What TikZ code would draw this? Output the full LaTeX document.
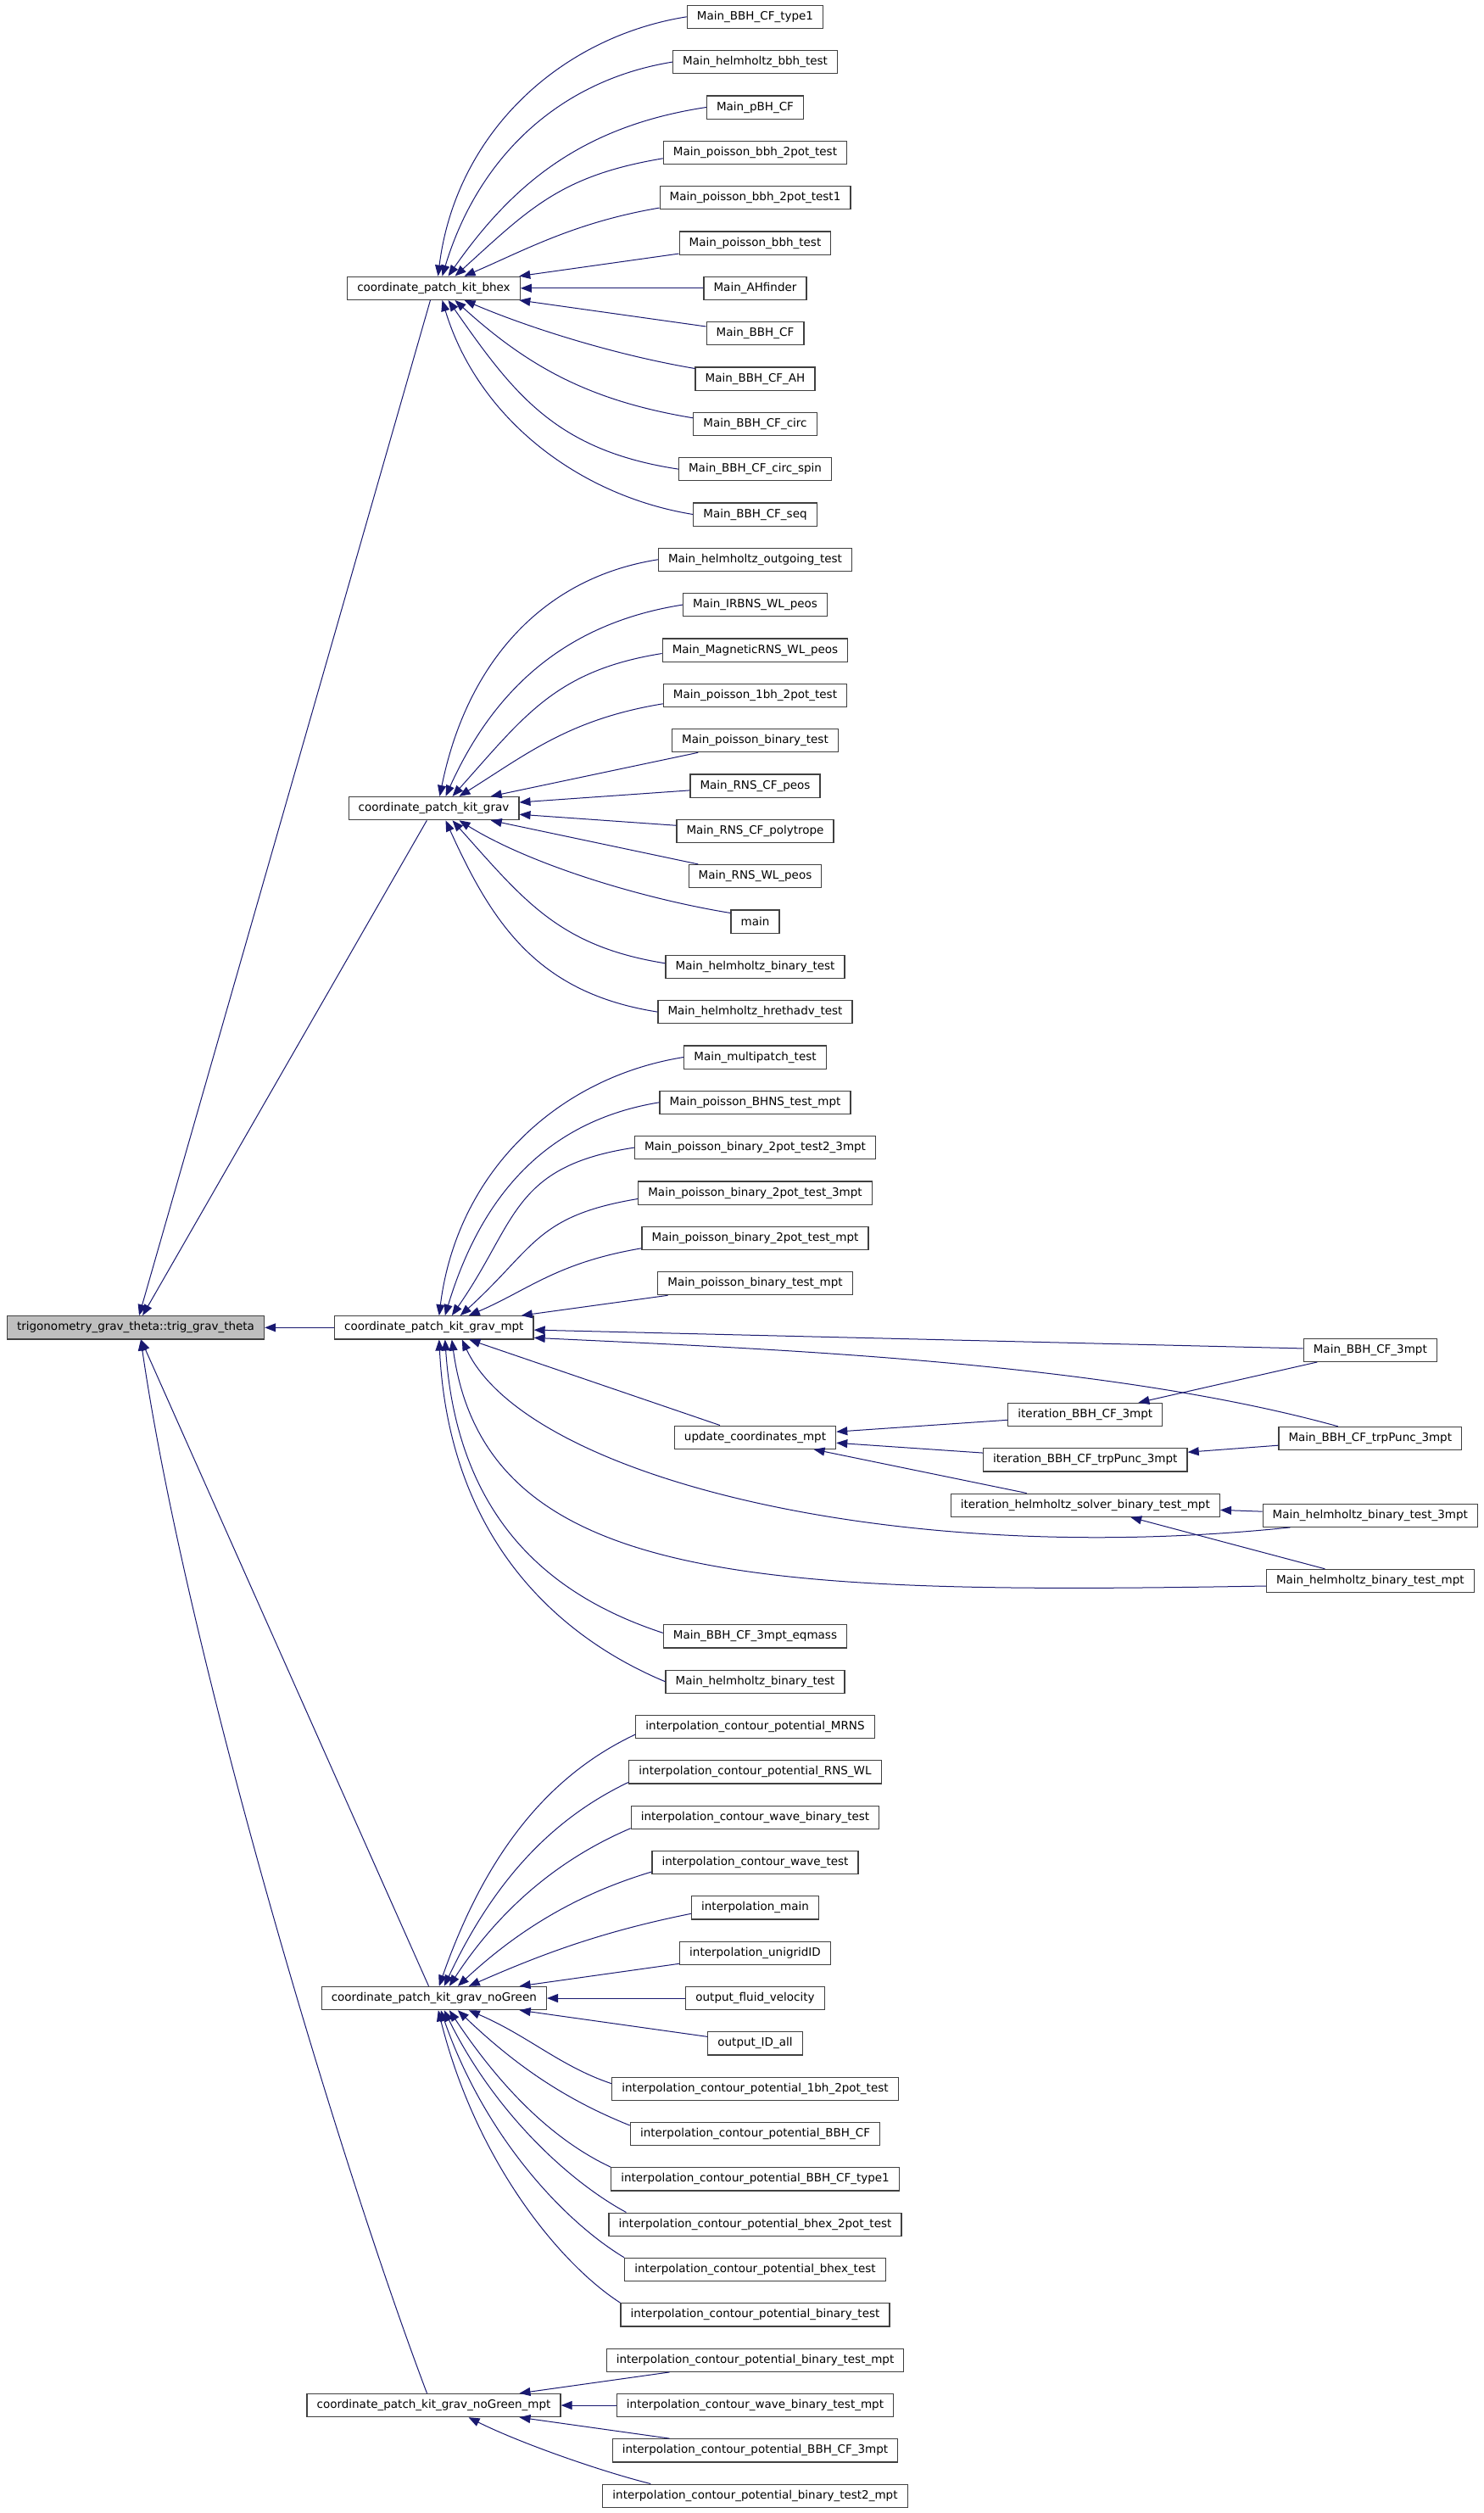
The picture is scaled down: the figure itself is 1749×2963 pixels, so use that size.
\documentclass[tikz,border=0pt]{standalone}
\usepackage{fontspec}
\setmainfont{DejaVu Sans}
\usetikzlibrary{arrows.meta}
\definecolor{edgeblue}{RGB}{25,25,112}
\definecolor{boxgray}{RGB}{64,64,64}
\definecolor{rootgray}{RGB}{191,191,191}
\tikzset{
  fn/.style={draw=boxgray, line width=1.2pt, fill=white, inner xsep=11.6pt, inner ysep=0pt,
    minimum height=27.2pt, font=\fontsize{13.5pt}{16pt}\selectfont},
  rootfn/.style={fn, fill=rootgray},
  edge/.style={draw=edgeblue, line width=1pt, {Triangle[length=13pt,width=10pt]}-}
}
\begin{document}
\begin{tikzpicture}[x=1pt,y=-1pt]
\fill[white] (0,0) rectangle (1749,2963);
\useasboundingbox (0,0) rectangle (1749,2963);
% root and the five patch kits
\node[rootfn] (trig) at (160,1565.3) {trigonometry\_grav\_theta::trig\_grav\_theta};
\node[fn] (bhex) at (511.5,339.8) {coordinate\_patch\_kit\_bhex};
\node[fn] (grav) at (511.5,953.1) {coordinate\_patch\_kit\_grav};
\node[fn] (gmpt) at (511.8,1565.3) {coordinate\_patch\_kit\_grav\_mpt};
\node[fn] (ngrn) at (511.8,2356) {coordinate\_patch\_kit\_grav\_noGreen};
\node[fn] (ngmpt) at (511.5,2836) {coordinate\_patch\_kit\_grav\_noGreen\_mpt};
% callers of bhex
\node[fn] (bh0) at (890.5,19.8) {Main\_BBH\_CF\_type1};
\node[fn] (bh1) at (890.5,73.1) {Main\_helmholtz\_bbh\_test};
\node[fn] (bh2) at (890.5,126.5) {Main\_pBH\_CF};
\node[fn] (bh3) at (890.5,179.8) {Main\_poisson\_bbh\_2pot\_test};
\node[fn] (bh4) at (890.5,233.1) {Main\_poisson\_bbh\_2pot\_test1};
\node[fn] (bh5) at (890.5,286.5) {Main\_poisson\_bbh\_test};
\node[fn] (bh6) at (890.5,339.8) {Main\_AHfinder};
\node[fn] (bh7) at (890.5,393.1) {Main\_BBH\_CF};
\node[fn] (bh8) at (890.5,446.5) {Main\_BBH\_CF\_AH};
\node[fn] (bh9) at (890.5,499.8) {Main\_BBH\_CF\_circ};
\node[fn] (bh10) at (890.5,553.1) {Main\_BBH\_CF\_circ\_spin};
\node[fn] (bh11) at (890.5,606.5) {Main\_BBH\_CF\_seq};
% callers of grav
\node[fn] (gr12) at (890.5,659.8) {Main\_helmholtz\_outgoing\_test};
\node[fn] (gr13) at (890.5,713.1) {Main\_IRBNS\_WL\_peos};
\node[fn] (gr14) at (890.5,766.5) {Main\_MagneticRNS\_WL\_peos};
\node[fn] (gr15) at (890.5,819.8) {Main\_poisson\_1bh\_2pot\_test};
\node[fn] (gr16) at (890.5,873.1) {Main\_poisson\_binary\_test};
\node[fn] (gr17) at (890.5,926.5) {Main\_RNS\_CF\_peos};
\node[fn] (gr18) at (890.5,979.8) {Main\_RNS\_CF\_polytrope};
\node[fn] (gr19) at (890.5,1033.1) {Main\_RNS\_WL\_peos};
\node[fn] (gr20) at (890.5,1086.5) {main};
\node[fn] (gr21) at (890.5,1139.8) {Main\_helmholtz\_binary\_test};
\node[fn] (gr22) at (890.5,1193.1) {Main\_helmholtz\_hrethadv\_test};
% callers of grav_mpt
\node[fn] (gm23) at (890.5,1246.5) {Main\_multipatch\_test};
\node[fn] (gm24) at (890.5,1299.8) {Main\_poisson\_BHNS\_test\_mpt};
\node[fn] (gm25) at (890.5,1353.1) {Main\_poisson\_binary\_2pot\_test2\_3mpt};
\node[fn] (gm26) at (890.5,1406.5) {Main\_poisson\_binary\_2pot\_test\_3mpt};
\node[fn] (gm27) at (890.5,1459.8) {Main\_poisson\_binary\_2pot\_test\_mpt};
\node[fn] (gm28) at (890.5,1513.1) {Main\_poisson\_binary\_test\_mpt};
\node[fn] (m3mpt) at (1615.8,1591.8) {Main\_BBH\_CF\_3mpt};
\node[fn] (itbbh) at (1279.8,1668) {iteration\_BBH\_CF\_3mpt};
\node[fn] (upd) at (890.5,1694.7) {update\_coordinates\_mpt};
\node[fn] (mtrp) at (1615.8,1696) {Main\_BBH\_CF\_trpPunc\_3mpt};
\node[fn] (ittrp) at (1279.8,1721.3) {iteration\_BBH\_CF\_trpPunc\_3mpt};
\node[fn] (ithelm) at (1279.8,1774.7) {iteration\_helmholtz\_solver\_binary\_test\_mpt};
\node[fn] (mh3mpt) at (1615.8,1786.7) {Main\_helmholtz\_binary\_test\_3mpt};
\node[fn] (mhmpt) at (1615.8,1864) {Main\_helmholtz\_binary\_test\_mpt};
\node[fn] (eqm) at (890.5,1929.3) {Main\_BBH\_CF\_3mpt\_eqmass};
\node[fn] (mhbt) at (890.5,1982.7) {Main\_helmholtz\_binary\_test};
% callers of noGreen
\node[fn] (ng0) at (890.5,2036) {interpolation\_contour\_potential\_MRNS};
\node[fn] (ng1) at (890.5,2089.3) {interpolation\_contour\_potential\_RNS\_WL};
\node[fn] (ng2) at (890.5,2142.7) {interpolation\_contour\_wave\_binary\_test};
\node[fn] (ng3) at (890.5,2196) {interpolation\_contour\_wave\_test};
\node[fn] (ng4) at (890.5,2249.3) {interpolation\_main};
\node[fn] (ng5) at (890.5,2302.7) {interpolation\_unigridID};
\node[fn] (ng6) at (890.5,2356) {output\_fluid\_velocity};
\node[fn] (ng7) at (890.5,2409.3) {output\_ID\_all};
\node[fn] (ng8) at (890.5,2462.7) {interpolation\_contour\_potential\_1bh\_2pot\_test};
\node[fn] (ng9) at (890.5,2516) {interpolation\_contour\_potential\_BBH\_CF};
\node[fn] (ng10) at (890.5,2569.3) {interpolation\_contour\_potential\_BBH\_CF\_type1};
\node[fn] (ng11) at (890.5,2622.7) {interpolation\_contour\_potential\_bhex\_2pot\_test};
\node[fn] (ng12) at (890.5,2676) {interpolation\_contour\_potential\_bhex\_test};
\node[fn] (ng13) at (890.5,2729.3) {interpolation\_contour\_potential\_binary\_test};
% callers of noGreen_mpt
\node[fn] (nm14) at (890.5,2782.7) {interpolation\_contour\_potential\_binary\_test\_mpt};
\node[fn] (nm15) at (890.5,2836) {interpolation\_contour\_wave\_binary\_test\_mpt};
\node[fn] (nm16) at (890.5,2889.3) {interpolation\_contour\_potential\_BBH\_CF\_3mpt};
\node[fn] (nm17) at (890.5,2942.7) {interpolation\_contour\_potential\_binary\_test2\_mpt};

% edges into the root
\draw[edge] (trig) -- (bhex);
\draw[edge] (trig) -- (grav);
\draw[edge] (trig) -- (gmpt);
\draw[edge] (trig) -- (ngrn);
\draw[edge] ([xshift=6pt]trig.south) .. controls +(54,371) and +(-103,-272) .. ([xshift=-8pt]ngmpt.north);

% bhex fan
\draw[edge] ([xshift=5pt]bhex.north) .. controls +(21,-168) and +(-150,24) .. (bh0.west);
\draw[edge] ([xshift=10pt]bhex.north) .. controls +(42,-139) and +(-135,22) .. (bh1.west);
\draw[edge] ([xshift=17pt]bhex.north) .. controls +(77,-110) and +(-145,22) .. (bh2.west);
\draw[edge] ([xshift=25pt]bhex.north) .. controls +(88,-80) and +(-120,20) .. ([yshift=-7pt]bh3.west);
\draw[edge] ([xshift=36pt]bhex.north) .. controls +(70,-30) and +(-100,17) .. ([yshift=-12pt]bh4.west);
\draw[edge] (bhex) -- (bh5);
\draw[edge] (bhex) -- (bh6);
\draw[edge] (bhex) -- (bh7);
\draw[edge] ([xshift=36pt]bhex.south) .. controls +(70,30) and +(-100,-17) .. ([yshift=12pt]bh8.west);
\draw[edge] ([xshift=25pt]bhex.south) .. controls +(88,80) and +(-120,-20) .. ([yshift=7pt]bh9.west);
\draw[edge] ([xshift=17pt]bhex.south) .. controls +(77,110) and +(-145,-22) .. (bh10.west);
\draw[edge] ([xshift=10pt]bhex.south) .. controls +(42,139) and +(-135,-22) .. (bh11.west);

% grav fan
\draw[edge] ([xshift=7pt]grav.north) .. controls +(31,-153) and +(-140,22) .. (gr12.west);
\draw[edge] ([xshift=14pt]grav.north) .. controls +(56,-124) and +(-140,22) .. (gr13.west);
\draw[edge] ([xshift=22pt]grav.north) .. controls +(85,-95) and +(-125,20) .. ([yshift=-4pt]gr14.west);
\draw[edge] ([xshift=30pt]grav.north) .. controls +(80,-50) and +(-110,18) .. ([yshift=-10pt]gr15.west);
\draw[edge] (grav) -- (gr16);
\draw[edge] (grav) -- (gr17);
\draw[edge] (grav) -- (gr18);
\draw[edge] (grav) -- (gr19);
\draw[edge] ([xshift=30pt]grav.south) .. controls +(80,50) and +(-110,-18) .. ([yshift=10pt]gr20.west);
\draw[edge] ([xshift=22pt]grav.south) .. controls +(85,95) and +(-125,-20) .. ([yshift=4pt]gr21.west);
\draw[edge] ([xshift=14pt]grav.south) .. controls +(56,124) and +(-140,-22) .. (gr22.west);

% grav_mpt fan
\draw[edge] ([xshift=6pt]gmpt.north) .. controls +(21,-168) and +(-150,24) .. (gm23.west);
\draw[edge] ([xshift=13pt]gmpt.north) .. controls +(42,-139) and +(-135,22) .. (gm24.west);
\draw[edge] ([xshift=21pt]gmpt.north) .. controls +(77,-110) and +(-145,22) .. (gm25.west);
\draw[edge] ([xshift=31pt]gmpt.north) .. controls +(88,-80) and +(-120,20) .. ([yshift=-7pt]gm26.west);
\draw[edge] ([xshift=41pt]gmpt.north) .. controls +(70,-30) and +(-100,17) .. ([yshift=-12pt]gm27.west);
\draw[edge] (gmpt) -- (gm28);
\draw[edge] (gmpt) -- (m3mpt);
\draw[edge] ([yshift=-12pt]gmpt.east) .. controls +(271,13) and +(-278,-77) .. ([xshift=-38pt]mtrp.north);
\draw[edge] (gmpt) -- (upd);
\draw[edge] ([xshift=33pt]gmpt.south) .. controls +(75,161) and +(-471,49) .. ([xshift=33pt]mh3mpt.south west);
\draw[edge] ([xshift=21pt]gmpt.south) .. controls +(40,291) and +(-592,10) .. ([yshift=-6pt]mhmpt.west);
\draw[edge] ([xshift=13pt]gmpt.south) .. controls +(15,221) and +(-122,-40) .. ([yshift=4pt]eqm.west);
\draw[edge] ([xshift=6pt]gmpt.south) .. controls +(12,241) and +(-120,-50) .. (mhbt.west);

% update_coordinates_mpt and the iterations
\draw[edge] (upd) -- (itbbh);
\draw[edge] (upd) -- (ittrp);
\draw[edge] (upd) -- (ithelm);
\draw[edge] (itbbh) -- (m3mpt);
\draw[edge] (ittrp) -- (mtrp);
\draw[edge] (ithelm) -- (mh3mpt);
\draw[edge] (ithelm) -- (mhmpt);

% noGreen fan
\draw[edge] ([xshift=6pt]ngrn.north) .. controls +(56,-160) and +(-100,47) .. ([yshift=-9pt]ng0.west);
\draw[edge] ([xshift=12pt]ngrn.north) .. controls +(59,-125) and +(-90,43) .. ([yshift=-12pt]ng1.west);
\draw[edge] ([xshift=18pt]ngrn.north) .. controls +(62,-95) and +(-80,34) .. ([yshift=-13pt]ng2.west);
\draw[edge] ([xshift=28pt]ngrn.north) .. controls +(70,-65) and +(-90,27) .. ([yshift=-11pt]ng3.west);
\draw[edge] ([xshift=41pt]ngrn.north) .. controls +(80,-35) and +(-110,22) .. ([yshift=-7pt]ng4.west);
\draw[edge] (ngrn) -- (ng5);
\draw[edge] (ngrn) -- (ng6);
\draw[edge] (ngrn) -- (ng7);
\draw[edge] ([xshift=41pt]ngrn.south) .. controls +(70,30) and +(-60,-20) .. ([yshift=6pt]ng8.west);
\draw[edge] ([xshift=28pt]ngrn.south) .. controls +(65,62) and +(-80,-32) .. ([yshift=10pt]ng9.west);
\draw[edge] ([xshift=18pt]ngrn.south) .. controls +(60,90) and +(-70,-33) .. (ng10.north west);
\draw[edge] ([xshift=12pt]ngrn.south) .. controls +(58,118) and +(-70,-38) .. ([xshift=21pt]ng11.north west);
\draw[edge] ([xshift=8pt]ngrn.south) .. controls +(52,150) and +(-70,-42) .. (ng12.north west);
\draw[edge] ([xshift=5pt]ngrn.south) .. controls +(45,180) and +(-70,-45) .. (ng13.north west);

% noGreen_mpt fan
\draw[edge] (ngmpt) -- (nm14);
\draw[edge] (ngmpt) -- (nm15);
\draw[edge] (ngmpt) -- (nm16);
\draw[edge] ([xshift=41pt]ngmpt.south) .. controls +(60,30) and +(-60,-15) .. ([xshift=57pt]nm17.north west);
\end{tikzpicture}
\end{document}
